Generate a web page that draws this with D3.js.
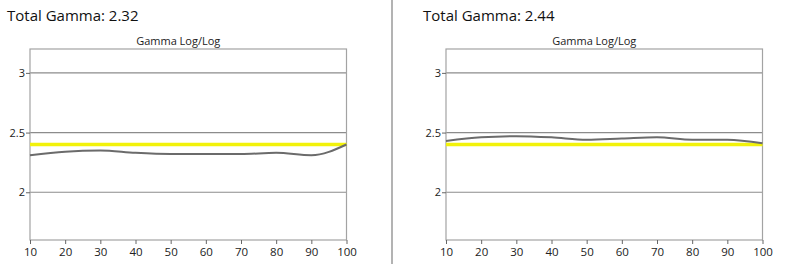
<!DOCTYPE html>
<html><head><meta charset="utf-8">
<script src="https://cdn.jsdelivr.net/npm/d3@7"></script>
<style>
html,body{margin:0;padding:0;background:#fff;}
svg{display:block;font-family:"Open Sans","Noto Sans",sans-serif;}
</style></head>
<body>
<svg id="c" width="792" height="264"></svg>
<script>
const xValues = [10, 20, 30, 40, 50, 60, 70, 80, 90, 100];
const gammaLeft = [2.31, 2.34, 2.35, 2.33, 2.32, 2.32, 2.32, 2.33, 2.31, 2.40];
const gammaRight = [2.43, 2.46, 2.47, 2.46, 2.44, 2.45, 2.46, 2.44, 2.44, 2.41];
const targetGamma = 2.4;
const yTicks = [2, 2.5, 3];
const totalLabels = ["Total Gamma: 2.32", "Total Gamma: 2.44"];
const chartTitle = "Gamma Log/Log";

const svg = d3.select("#c");

svg.append("line").attr("x1", 392).attr("x2", 392).attr("y1", 0).attr("y2", 264)
  .attr("stroke", "#9a9a9a").attr("stroke-width", 1.5);

function drawPanel(ox, titleX, values, label) {
  const left = ox, right = ox + 316.5, top = 49, bottom = 240;
  const x = d3.scaleLinear().domain([10, 100]).range([left, right]);
  const y = d3.scaleLinear().domain([1.6, 3.2]).range([bottom, top]);
  const g = svg.append("g");

  g.append("text").attr("x", titleX).attr("y", 21).attr("font-size", 15)
    .attr("fill", "#111").text(label);
  g.append("text").attr("x", (left + right) / 2 - 10).attr("y", 45).attr("font-size", 11)
    .attr("text-anchor", "middle").attr("fill", "#222").text(chartTitle);

  g.selectAll(".grid").data(yTicks).join("line")
    .attr("x1", left).attr("x2", right)
    .attr("y1", d => y(d)).attr("y2", d => y(d))
    .attr("stroke", "#8c8c8c").attr("stroke-width", 1.2);

  g.append("rect").attr("x", left).attr("y", top).attr("width", right - left).attr("height", bottom - top)
    .attr("fill", "none").attr("stroke", "#a3a3a3").attr("stroke-width", 1.2);

  const ya = g.append("g").attr("transform", `translate(${left},0)`)
    .call(d3.axisLeft(y).tickValues(yTicks).tickSize(4).tickPadding(1).tickFormat(d3.format("")));
  ya.select(".domain").remove();
  ya.selectAll("line").attr("stroke", "#666");
  ya.selectAll("text").attr("font-size", 11).attr("fill", "#222").attr("font-family", "Open Sans, Noto Sans, sans-serif");

  const xa = g.append("g").attr("transform", `translate(0,${bottom})`)
    .call(d3.axisBottom(x).tickValues(xValues).tickSize(4).tickPadding(4));
  xa.select(".domain").remove();
  xa.selectAll("line").attr("stroke", "#666");
  xa.selectAll("text").attr("font-size", 11.5).attr("fill", "#222").attr("font-family", "Open Sans, Noto Sans, sans-serif");

  g.append("line").attr("x1", left).attr("x2", right)
    .attr("y1", y(targetGamma)).attr("y2", y(targetGamma))
    .attr("stroke", "#f2f20a").attr("stroke-width", 3.5);

  const line = d3.line().x((d, i) => x(xValues[i])).y(d => y(d)).curve(d3.curveMonotoneX);
  g.append("path").datum(values).attr("d", line)
    .attr("fill", "none").attr("stroke", "#6b6b6b").attr("stroke-width", 2);
}

drawPanel(30, 7, gammaLeft, totalLabels[0]);
drawPanel(446, 423, gammaRight, totalLabels[1]);
</script>
</body></html>
